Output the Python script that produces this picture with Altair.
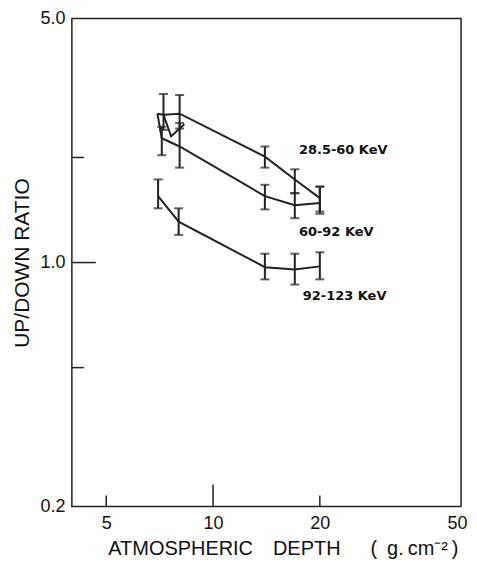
import altair as alt
import pandas as pd

# ---- data ----
series_names = ["28.5-60 KeV", "60-92 KeV", "92-123 KeV"]

s1_x = [6.97, 7.25, 8.05, 14.0, 17.0, 20.0]
s1_y = [2.67, 2.65, 2.67, 2.01, 1.73, 1.53]
s1_lo = [None, 2.40, 2.42, 1.87, 1.58, 1.40]
s1_hi = [None, 3.04, 3.02, 2.15, 1.85, 1.65]

s2_x = [6.97, 7.17, 8.05, 14.0, 17.0, 20.0]
s2_y = [2.67, 2.27, 2.15, 1.55, 1.46, 1.48]
s2_lo = [None, 2.03, 1.87, 1.42, 1.34, 1.38]
s2_hi = [None, 2.45, 2.51, 1.67, 1.58, 1.65]

s3_x = [7.0, 8.0, 14.0, 17.0, 20.0]
s3_y = [1.55, 1.31, 0.97, 0.955, 0.975]
s3_lo = [1.43, 1.20, 0.895, 0.865, 0.895]
s3_hi = [1.73, 1.43, 1.06, 1.06, 1.07]

# stray connector stroke drawn in the original figure
conn_x = [7.25, 7.62, 8.3]
conn_y = [2.65, 2.30, 2.49]

label_x = [17.46, 17.46, 17.9]
label_y = [2.10, 1.22, 0.80]

x_ticks_minor = [5, 20]
x_ticks_major = [10]
y_ticks_minor = [0.5, 2.0]
y_ticks_major = [1.0]
x_label_values = [5, 10, 20, 50]
y_label_values = [0.2, 1.0, 5.0]

# ---- tables ----
rows = []
for name, xs, ys, los, his in [
    (series_names[0], s1_x, s1_y, s1_lo, s1_hi),
    (series_names[1], s2_x, s2_y, s2_lo, s2_hi),
    (series_names[2], s3_x, s3_y, s3_lo, s3_hi),
]:
    for i, (x, y, lo, hi) in enumerate(zip(xs, ys, los, his)):
        rows.append({"series": name, "i": i, "x": x, "y": y, "lo": lo, "hi": hi})
for i, (x, y) in enumerate(zip(conn_x, conn_y)):
    rows.append({"series": "connector", "i": i, "x": x, "y": y, "lo": None, "hi": None})
df = pd.DataFrame(rows)
err = df.dropna(subset=["lo", "hi"])

labels = pd.DataFrame({"text": series_names, "x": label_x, "y": label_y})

W, H = 390, 489
xscale = alt.Scale(type="log", domain=[4, 50], nice=False)
yscale = alt.Scale(type="log", domain=[0.2, 5], nice=False)
INK = "#222222"
FONT = "Liberation Sans"
SP = "\u2002"
x_title = "ATMOSPHERIC" + SP + SP + "DEPTH" + SP + SP + SP + "(" + SP + "g." + "\u2009" + "cm⁻²" + "\u2009" + ")"

x_axis = alt.Axis(values=x_label_values, format="d", tickSize=0, domain=False, grid=False,
                  labelFontSize=18, labelFont=FONT, labelColor="#111", labelPadding=8,
                  labelFlush=5, labelFlushOffset=6, labelOverlap=False,
                  title=x_title, titleFont=FONT, titleFontSize=20,
                  titleFontWeight="normal", titleColor="#111", titlePadding=6,
                  titleAnchor="start", titleAlign="left", titleX=36)
y_axis = alt.Axis(values=y_label_values, format=".1f", tickSize=0, domain=False, grid=False,
                  labelFontSize=18, labelFont=FONT, labelColor="#111", labelPadding=7,
                  labelOverlap=False,
                  title="UP/DOWN RATIO", titleFont=FONT, titleFontSize=21,
                  titleFontWeight="normal", titleColor="#111", titlePadding=7)

base = alt.Chart(df)

lines = base.mark_line(color=INK, strokeWidth=2).encode(
    x=alt.X("x:Q", scale=xscale, axis=x_axis),
    y=alt.Y("y:Q", scale=yscale, axis=y_axis),
    detail="series:N",
    order="i:Q",
)

bars = alt.Chart(err).mark_rule(color=INK, strokeWidth=2).encode(
    x=alt.X("x:Q", scale=xscale),
    y=alt.Y("lo:Q", scale=yscale),
    y2="hi:Q",
)
cap_lo = alt.Chart(err).mark_tick(color=INK, thickness=2, size=9, orient="horizontal").encode(
    x=alt.X("x:Q", scale=xscale),
    y=alt.Y("lo:Q", scale=yscale),
)
cap_hi = alt.Chart(err).mark_tick(color=INK, thickness=2, size=9, orient="horizontal").encode(
    x=alt.X("x:Q", scale=xscale),
    y=alt.Y("hi:Q", scale=yscale),
)

text = alt.Chart(labels).mark_text(align="left", baseline="middle", font="DejaVu Sans",
                                    fontWeight="bold", fontSize=13, color="#111").encode(
    x=alt.X("x:Q", scale=xscale),
    y=alt.Y("y:Q", scale=yscale),
    text="text:N",
)

xt_minor = alt.Chart(pd.DataFrame({"v": x_ticks_minor})).mark_rule(color=INK, strokeWidth=1.5).encode(
    x=alt.X("v:Q", scale=xscale), y=alt.value(H), y2=alt.value(H - 11))
xt_major = alt.Chart(pd.DataFrame({"v": x_ticks_major})).mark_rule(color=INK, strokeWidth=1.5).encode(
    x=alt.X("v:Q", scale=xscale), y=alt.value(H), y2=alt.value(H - 22))
yt_minor = alt.Chart(pd.DataFrame({"v": y_ticks_minor})).mark_rule(color=INK, strokeWidth=1.5).encode(
    y=alt.Y("v:Q", scale=yscale), x=alt.value(0), x2=alt.value(12))
yt_major = alt.Chart(pd.DataFrame({"v": y_ticks_major})).mark_rule(color=INK, strokeWidth=1.5).encode(
    y=alt.Y("v:Q", scale=yscale), x=alt.value(0), x2=alt.value(24))

chart = alt.layer(lines, bars, cap_lo, cap_hi, text, xt_minor, xt_major, yt_minor, yt_major).properties(
    width=W, height=H,
    autosize=alt.AutoSizeParams(type="none"),
    padding={"left": 64, "top": 10, "right": 8, "bottom": 52},
    background="white",
).configure_view(stroke=INK, strokeWidth=1.5)

chart.save("out.html", embed_options={"renderer": "svg", "actions": False})
